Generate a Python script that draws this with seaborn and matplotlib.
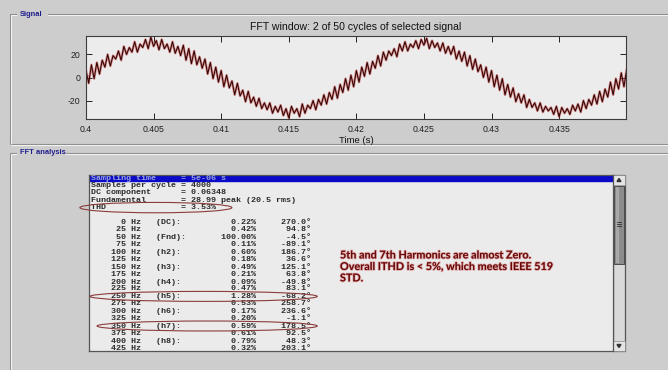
import numpy as np
import pandas as pd
import matplotlib
matplotlib.use("Agg")
import matplotlib.pyplot as plt
import seaborn as sns
from matplotlib.patches import Rectangle, Ellipse, Polygon
import matplotlib.patheffects as pe

# ---------------- data ----------------
signal_title = "FFT window: 2 of 50 cycles of selected signal"
x_label = "Time (s)"
t_start = 0.4
t_step = 0.0002
signal_values = [
    6, -5, 11, -1, 13, 3, 15, 9, 20, 10, 19, 16, 23, 15, 27, 20, 26, 22, 31, 22, 29, 26, 33, 25, 35,
    27, 32, 24, 33, 25, 29, 22, 31, 21, 27, 19, 28, 15, 25, 12, 23, 11, 18, 8, 16, 3, 13, -1, 9, -4,
    6, -8, 2, -9, -3, -15, -5, -16, -11, -21, -12, -22, -17, -25, -18, -27, -22, -28, -22, -31, -25, -30, -24, -33, -27,
    -35, -25, -31, -27, -34, -23, -31, -24, -27, -20, -28, -19, -24, -15, -23, -13, -19, -8, -18, -6, -13, -1, -11, 2, -8,
    6, -4, 9, 1, 13, 3, 14, 8, 19, 10, 22, 15, 23, 19, 25, 18, 29, 23, 31, 23, 29, 26, 32, 25, 33,
    28, 34, 25, 32, 26, 30, 23, 30, 21, 27, 20, 27, 16, 23, 14, 22, 10, 19, 7, 16, 5, 11, 0, 9, -4,
    6, -8, 2, -11, -1, -15, -6, -17, -9, -21, -14, -22, -15, -26, -19, -26, -22, -29, -22, -30, -25, -29, -26, -32, -25,
    -34, -26, -31, -27, -32, -24, -29, -23, -30, -20, -27, -19, -24, -15, -23, -12, -21, -10, -17, -4, -15, -1, -10, 4, -8, 7,
]
x_ticks = [0.4, 0.405, 0.41, 0.415, 0.42, 0.425, 0.43, 0.435]
x_tick_labels = ["0.4", "0.405", "0.41", "0.415", "0.42", "0.425", "0.43", "0.435"]
y_ticks = [-20, 0, 20]
y_tick_labels = ["-20", "0", "20"]

header_names = ["Sampling time", "Samples per cycle", "DC component", "Fundamental", "THD"]
header_values = ["5e-06 s", "4000", "0.06348", "28.99 peak (20.5 rms)", "3.53%"]
freqs = [0, 25, 50, 75, 100, 125, 150, 175, 200, 225, 250, 275, 300, 325, 350, 375, 400, 425]
harm_labels = ["(DC):", "", "(Fnd):", "", "(h2):", "", "(h3):", "", "(h4):", "",
               "(h5):", "", "(h6):", "", "(h7):", "", "(h8):", ""]
magnitudes = [0.22, 0.42, 100.00, 0.11, 0.60, 0.18, 0.49, 0.21, 0.09, 0.47,
              1.28, 0.53, 0.17, 0.20, 0.59, 0.61, 0.79, 0.32]
phases = [270.0, 94.8, -4.5, -89.1, 186.7, 36.6, 125.1, 63.8, -49.8, 83.1,
          -68.2, 258.7, 236.6, -1.1, 178.5, 92.5, 48.3, 203.1]
note_lines = ["5th and 7th Harmonics are almost Zero.",
              "Overall ITHD is < 5%, which meets IEEE 519",
              "STD."]
circled_rows = ["THD", 250, 350]

# ---------------- figure ----------------
W, H = 668, 370
PANEL = "#cdcdcd"
plt.rcParams["font.family"] = ["Liberation Sans", "DejaVu Sans"]
fig = plt.figure(figsize=(W / 100, H / 100), dpi=100)
fig.patch.set_facecolor(PANEL)

bg = fig.add_axes([0, 0, 1, 1])
bg.set_xlim(0, W)
bg.set_ylim(H, 0)
bg.axis("off")
bg.set_zorder(0)


def group_box(x0, y0, x1, y1, label, lx1):
    for off, col in [(0, "#8a8a8a"), (1, "#f2f2f2")]:
        bg.plot([x0 + off, x1], [y0 + off, y0 + off], color=col, lw=0.8, solid_capstyle="butt")
        bg.plot([x0 + off, x0 + off], [y0 + off, y1], color=col, lw=0.8, solid_capstyle="butt")
        bg.plot([x0 + off, x1], [y1 + off, y1 + off], color=col, lw=0.8, solid_capstyle="butt")
    bg.add_patch(Rectangle((x0 + 7, y0 - 4), lx1 - x0 - 7, 8, facecolor=PANEL, edgecolor="none", zorder=3))
    bg.text(x0 + 10, y0 + 0.5, label, fontsize=5.4, fontweight="bold", color="#1e1e8c",
            ha="left", va="center", zorder=4)


group_box(10, 14, 700, 144, "Signal", 48)
group_box(10, 152.5, 700, 400, "FFT analysis", 66)

# ---------------- signal axes ----------------
ax = fig.add_axes([86 / W, 1 - 119 / H, 540 / W, 83 / H])
ax.set_zorder(2)
ax.set_facecolor("#ececec")
t = t_start + t_step * np.arange(len(signal_values))
df = pd.DataFrame({"t": t, "v": signal_values})
sns.lineplot(data=df, x="t", y="v", ax=ax, color="#c43a3a", linewidth=1.8, alpha=0.55)
sns.lineplot(data=df, x="t", y="v", ax=ax, color="#300303", linewidth=0.75)
ax.set_xlim(0.4, 0.43995)
ax.set_ylim(-36, 36)
ax.set_xticks(x_ticks)
ax.set_xticklabels(x_tick_labels)
ax.set_yticks(y_ticks)
ax.set_yticklabels(y_tick_labels)
ax.tick_params(direction="in", length=4, width=0.7, top=True, right=True,
               labelsize=6.3, colors="#222222", pad=4)
for s in ax.spines.values():
    s.set_color("#3c3c3c")
    s.set_linewidth(0.8)
ax.set_title(signal_title, fontsize=7.6, pad=4.0, color="#111111")
ax.set_xlabel(x_label, fontsize=6.8, labelpad=1.5, color="#111111")
ax.set_ylabel("")

# ---------------- listbox ----------------
LX0, LX1, LY0, LY1 = 89, 613, 175, 351
ROW0, ROWH, COL0, COLW = 178, 7.4, 91, 5.05
lb = fig.add_axes([LX0 / W, 1 - LY1 / H, (LX1 - LX0) / W, (LY1 - LY0) / H])
lb.set_zorder(3)
lb.set_facecolor("#ebebeb")
lb.set_xlim((LX0 - COL0) / COLW, (LX1 - COL0) / COLW)
lb.set_ylim((LY1 - ROW0) / ROWH, (LY0 - ROW0) / ROWH)
lb.set_xticks([])
lb.set_yticks([])
for s in lb.spines.values():
    s.set_color("#555555")
    s.set_linewidth(0.9)

mono = dict(family=["Liberation Mono", "DejaVu Sans Mono"], fontsize=6.06, fontweight="bold")
lines = [f"{n:<18s}= {v}" for n, v in zip(header_names, header_values)]
lines.append("")
for f, lab, m, p in zip(freqs, harm_labels, magnitudes, phases):
    lines.append(f"{f:7d} Hz   {lab:<7s}{(f'{m:.2f}%'):>13s}{(f'{p:.1f}°'):>11s}")

lb.axhspan(-1, 0.4, color="#0a0ac8", zorder=1)
for i, ln in enumerate(lines):
    lb.text(0, i, ln, ha="left", va="center", color="#9aa4dc" if i == 0 else "#2b2b2b",
            zorder=3, **mono)

# circled rows
row_of = {"THD": 4}
for f in freqs:
    row_of[f] = 6 + freqs.index(f)
ell_specs = {"THD": (-2.2, 27.9, 1.4), 250: (-0.2, 44.8, 1.35), 350: (1.2, 44.8, 1.35)}
for key in circled_rows:
    c0, c1, hh = ell_specs[key]
    lb.add_patch(Ellipse(((c0 + c1) / 2, row_of[key]), c1 - c0, hh, fill=False,
                         edgecolor="#8a3c3c", lw=0.8, clip_on=False, zorder=4))

# annotation note
note_rows = [10.4, 11.96, 13.5]
for r, txt in zip(note_rows, note_lines):
    lb.text(49.3, r, txt, ha="left", va="center", fontsize=7.8, fontweight="bold",
            family=["Lato", "DejaVu Sans"], color="#6a0808", zorder=4,
            path_effects=[pe.withStroke(linewidth=1.2, foreground="#d88a8a", alpha=0.6)])

# ---------------- scrollbar ----------------
bg.add_patch(Rectangle((613, 175), 12, 176, facecolor="#d9d9d9", edgecolor="#555555", lw=0.9, zorder=2))
bg.add_patch(Rectangle((613, 175), 12, 10, facecolor="#e4e4e4", edgecolor="#8a8a8a", lw=0.5, zorder=3))
bg.add_patch(Rectangle((613, 341), 12, 10, facecolor="#e4e4e4", edgecolor="#8a8a8a", lw=0.5, zorder=3))
bg.add_patch(Polygon([[617, 181.5], [621, 181.5], [619, 178.5]], closed=True, color="#333333", zorder=4))
bg.add_patch(Polygon([[617, 344.5], [621, 344.5], [619, 347.5]], closed=True, color="#333333", zorder=4))
bg.add_patch(Rectangle((614, 186), 10, 78, facecolor="#8c8c8c", edgecolor="#4a4a4a", lw=0.7, zorder=3))
bg.add_patch(Rectangle((615.5, 187), 3, 76, facecolor="#a8a8a8", edgecolor="none", zorder=4))
for gy in (222, 224, 226):
    bg.plot([617, 621], [gy, gy], color="#2e2e2e", lw=0.6, zorder=5)

fig.savefig("out.png", dpi=100, facecolor=fig.get_facecolor())
